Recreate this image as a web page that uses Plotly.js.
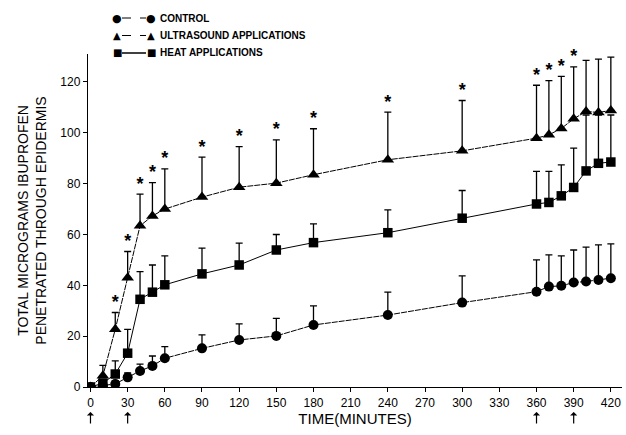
<!DOCTYPE html>
<html>
<head>
<meta charset="utf-8">
<script src="https://cdn.plot.ly/plotly-3.0.1.min.js"></script>
<style>html,body{margin:0;padding:0;background:#fff;}#chart{width:626px;height:435px;}</style>
</head>
<body>
<div id="chart"></div>
<script>
// Time points (minutes)
const time = [0,10,20,30,40,50,60,90,120,150,180,240,300,360,370,380,390,400,410,420];
// Control
const control    = [0,0.5,1.2,3.8,6.3,8.3,11.3,15.2,18.5,20.1,24.4,28.3,33.2,37.5,39.5,39.8,41.1,41.5,42.1,42.8];
const controlErr = [0,0.5,1.3,1.7,2.7,3.9,4.6,5.3,6.3,6.9,7.5,9.0,10.5,12.5,12.5,11.8,12.8,13.5,13.8,13.5];
// Ultrasound applications
const ultra      = [0,4.4,22.7,43,63.4,67.3,70,74.7,78.6,80.2,83.5,89.4,92.9,97.9,99.2,101.7,105.5,108.4,108,108.8];
const ultraErr   = [0,4.1,6.6,10.3,12.5,13.1,15.8,15.7,16,17,18.1,18.7,19.8,20.8,21.3,20.5,20.4,20.1,21,21];
// Heat applications
const heat       = [0,1.5,5.1,13.3,34.5,37.3,40.2,44.5,48,53.9,56.8,60.7,66.4,72,72.6,75.2,78.5,85,88,88.5];
const heatErr    = [0,1.5,5.2,9.4,10.9,10.7,11.4,10.1,8.6,6.1,7.4,9.0,10.9,12.8,12.2,12.2,15.5,22,19,18.5];
// Significance flags (ultrasound vs control)
const significant = [0,0,1,1,1,1,1,1,1,1,1,1,1,1,1,1,1,0,0,0];
// Application times (arrows under the axis)
const applicationTimes = [0,30,360,390];
// Tick values
const xTicks = [0,30,60,90,120,150,180,210,240,270,300,330,360,390,420];
const yTicks = [0,20,40,60,80,100,120];
// Legend entries
const legendNames   = ['CONTROL', 'ULTRASOUND APPLICATIONS', 'HEAT APPLICATIONS'];
const legendGlyphs  = ['\u25CF', '\u25B2', '\u25A0'];
const legendDashes  = ['dash', 'dash', 'solid'];

const FONT = "Liberation Sans, Arial, Helvetica, sans-serif";

function series(name, y, err, symbol, size, dash) {
  return {
    type: 'scatter', mode: 'lines+markers', name: name, showlegend: false,
    x: time, y: y,
    line: {color: '#000', width: 1, dash: dash},
    marker: {color: '#000', symbol: symbol, size: size},
    error_y: {type: 'data', symmetric: false, array: err, arrayminus: err.map(() => 0),
              color: '#000', thickness: 1.3, width: 3.5}
  };
}

const starX = [], starY = [];
time.forEach((t, i) => { if (significant[i]) { starX.push(t); starY.push(ultra[i] + ultraErr[i]); } });

const traces = [
  series('CONTROL', control, controlErr, 'circle', 10, '6px,1px'),
  series('HEAT APPLICATIONS', heat, heatErr, 'square', 9.5, 'solid'),
  series('ULTRASOUND APPLICATIONS', ultra, ultraErr, 'triangle-up', 11, '6px,1px'),
  {type: 'scatter', mode: 'text', x: starX, y: starY, text: starX.map(() => '*'),
   textposition: 'top center', cliponaxis: false,
   textfont: {family: FONT, size: 18, color: '#000', weight: 'bold'},
   showlegend: false, hoverinfo: 'skip'}
];

const annotations = applicationTimes.map(t => ({
  x: t, xref: 'x', y: -0.075, yref: 'paper', text: '', showarrow: true,
  arrowhead: 1, arrowsize: 1, arrowwidth: 1.2, arrowcolor: '#000', ax: 0, ay: 13
}));

// custom legend (paper coordinates relative to the plot area)
const shapes = [];
const px = v => (v - 88) / 534, py = v => (387 - v) / 333;
legendNames.forEach((name, i) => {
  const rowY = py(18 + i * 17.5);
  shapes.push({type: 'line', xref: 'paper', yref: 'paper', x0: px(122), x1: px(146), y0: rowY, y1: rowY,
               line: {color: '#000', width: i === 2 ? 1.5 : 1, dash: legendDashes[i]}});
  [117, 151].forEach(mx => annotations.push({
    xref: 'paper', yref: 'paper', x: px(mx), y: rowY, xanchor: 'center', yanchor: 'middle',
    text: legendGlyphs[i], showarrow: false,
    font: {family: 'DejaVu Sans, sans-serif', size: i === 0 ? 11 : 10, color: '#000'}
  }));
  annotations.push({xref: 'paper', yref: 'paper', x: px(158), y: rowY, xanchor: 'left', yanchor: 'middle',
    text: name, showarrow: false, font: {family: FONT, size: 10, color: '#000', weight: 'bold'}});
});

const layout = {
  width: 626, height: 435,
  margin: {l: 88, r: 4, t: 54, b: 48},
  paper_bgcolor: '#fff', plot_bgcolor: '#fff',
  font: {family: FONT, color: '#000', size: 12},
  showlegend: false,
  xaxis: {range: [-2, 429], tickvals: xTicks, ticks: 'outside', ticklen: 4, tickwidth: 1,
          tickcolor: '#000', showline: true, linecolor: '#000', linewidth: 1.2,
          showgrid: false, zeroline: false, tickfont: {family: FONT, size: 12},
          title: {text: 'TIME(MINUTES)', font: {family: FONT, size: 15}, standoff: 3}},
  yaxis: {range: [0, 131], tickvals: yTicks, ticks: 'outside', ticklen: 4, tickwidth: 1,
          tickcolor: '#000', showline: true, linecolor: '#000', linewidth: 1.2,
          showgrid: false, zeroline: false, tickfont: {family: FONT, size: 12},
          title: {text: 'TOTAL MICROGRAMS IBUPROFEN<br>PENETRATED THROUGH EPIDERMIS',
                  font: {family: FONT, size: 14}, standoff: 10}},
  annotations: annotations,
  shapes: shapes
};

Plotly.newPlot('chart', traces, layout, {staticPlot: true, displayModeBar: false});
</script>
</body>
</html>
